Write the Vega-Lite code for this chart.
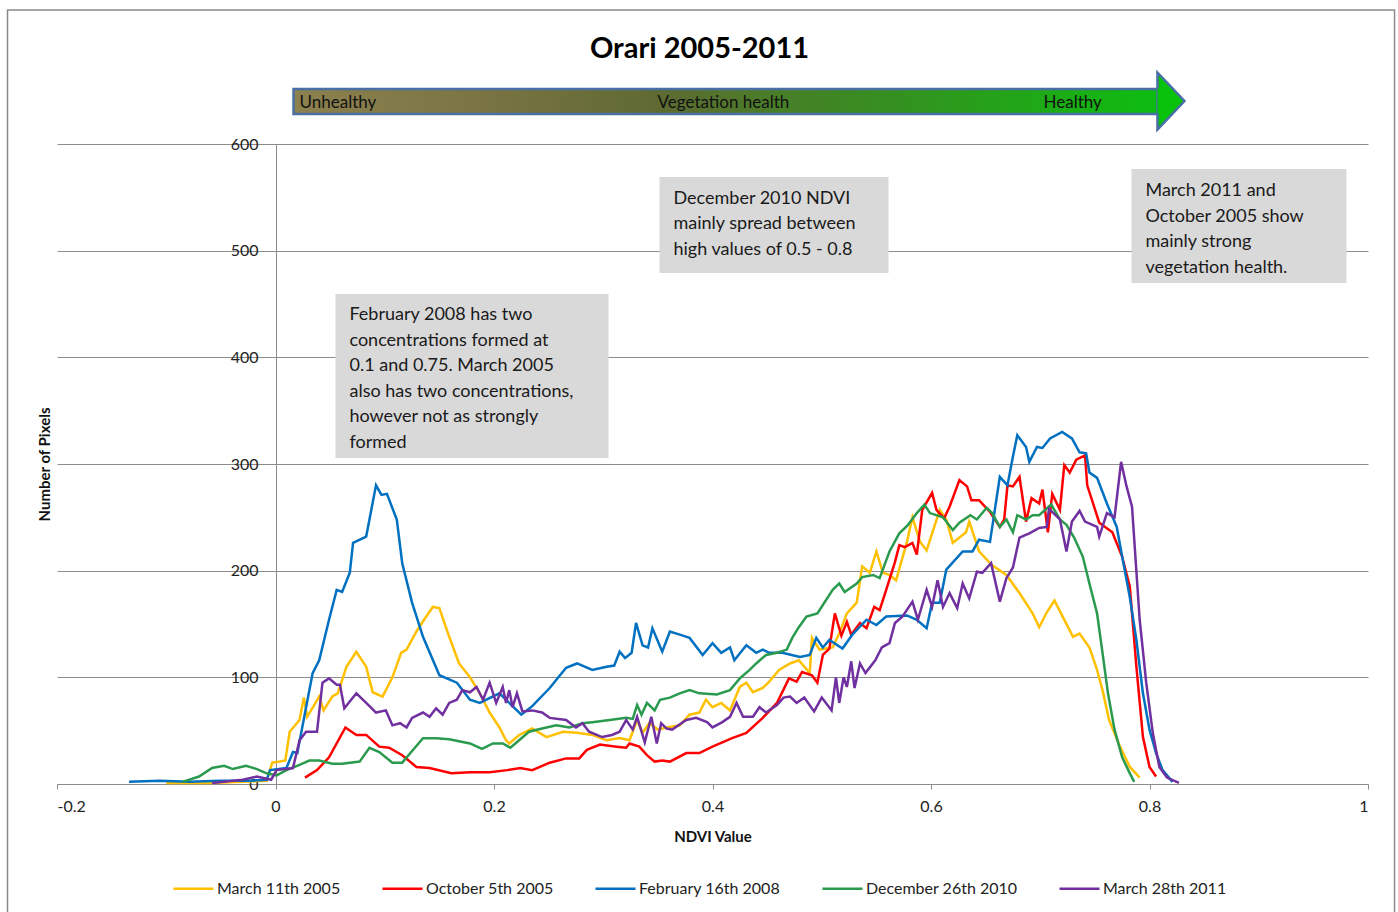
{
  "$schema": "https://vega.github.io/schema/vega-lite/v6.json",
  "width": 1311,
  "height": 640,
  "autosize": "none",
  "padding": {"left": 57, "top": 144, "right": 30, "bottom": 128},
  "background": "white",
  "config": {"view": {"stroke": null}, "font": "Lato"},
  "layer": [
    {
      "data": {"values": [{"x": -0.2453, "x2": 1.0243, "y": 725.6, "y2": -130}]},
      "mark": {"type": "rect", "filled": false, "color": "#8a8a8a", "strokeWidth": 1.5},
      "encoding": {
        "x": {"field": "x", "type": "quantitative"},
        "x2": {"field": "x2"},
        "y": {"field": "y", "type": "quantitative"},
        "y2": {"field": "y2"}
      }
    },
    {
      "data": {"values": [
        {"x": 0.0549, "x2": 0.3048, "y": 459.4, "y2": 305.6},
        {"x": 0.3515, "x2": 0.5611, "y": 569.1, "y2": 479.1},
        {"x": 0.7835, "x2": 0.9803, "y": 576.6, "y2": 469.7}
      ]},
      "mark": {"type": "rect", "color": "#d9d9d9"},
      "encoding": {
        "x": {"field": "x", "type": "quantitative"},
        "x2": {"field": "x2"},
        "y": {"field": "y", "type": "quantitative"},
        "y2": {"field": "y2"}
      }
    },
    {
      "data": {"values": [
        {"s":"March 11th 2005","x":-0.1,"y":1},{"s":"March 11th 2005","x":-0.06,"y":1},{"s":"March 11th 2005","x":-0.03,"y":2},{"s":"March 11th 2005","x":-0.008,"y":3},{"s":"March 11th 2005","x":-0.003,"y":20},{"s":"March 11th 2005","x":0.004,"y":21},{"s":"March 11th 2005","x":0.009,"y":22},{"s":"March 11th 2005","x":0.013,"y":49},{"s":"March 11th 2005","x":0.022,"y":60},{"s":"March 11th 2005","x":0.026,"y":81},{"s":"March 11th 2005","x":0.029,"y":63},{"s":"March 11th 2005","x":0.040,"y":82},{"s":"March 11th 2005","x":0.044,"y":69},{"s":"March 11th 2005","x":0.052,"y":82},{"s":"March 11th 2005","x":0.057,"y":85},{"s":"March 11th 2005","x":0.065,"y":110},{"s":"March 11th 2005","x":0.074,"y":124},{"s":"March 11th 2005","x":0.083,"y":110},{"s":"March 11th 2005","x":0.089,"y":86},{"s":"March 11th 2005","x":0.098,"y":82},{"s":"March 11th 2005","x":0.107,"y":100},{"s":"March 11th 2005","x":0.115,"y":123},{"s":"March 11th 2005","x":0.120,"y":126},{"s":"March 11th 2005","x":0.129,"y":143},{"s":"March 11th 2005","x":0.136,"y":154},{"s":"March 11th 2005","x":0.144,"y":166},{"s":"March 11th 2005","x":0.150,"y":165},{"s":"March 11th 2005","x":0.159,"y":138},{"s":"March 11th 2005","x":0.168,"y":113},{"s":"March 11th 2005","x":0.178,"y":100},{"s":"March 11th 2005","x":0.187,"y":85},{"s":"March 11th 2005","x":0.196,"y":67},{"s":"March 11th 2005","x":0.205,"y":53},{"s":"March 11th 2005","x":0.211,"y":41},{"s":"March 11th 2005","x":0.214,"y":38},{"s":"March 11th 2005","x":0.223,"y":46},{"s":"March 11th 2005","x":0.235,"y":52},{"s":"March 11th 2005","x":0.248,"y":44},{"s":"March 11th 2005","x":0.263,"y":49},{"s":"March 11th 2005","x":0.276,"y":48},{"s":"March 11th 2005","x":0.290,"y":46},{"s":"March 11th 2005","x":0.303,"y":41},{"s":"March 11th 2005","x":0.315,"y":43},{"s":"March 11th 2005","x":0.324,"y":41},{"s":"March 11th 2005","x":0.331,"y":60},{"s":"March 11th 2005","x":0.336,"y":48},{"s":"March 11th 2005","x":0.342,"y":57},{"s":"March 11th 2005","x":0.350,"y":51},{"s":"March 11th 2005","x":0.358,"y":53},{"s":"March 11th 2005","x":0.370,"y":55},{"s":"March 11th 2005","x":0.379,"y":65},{"s":"March 11th 2005","x":0.388,"y":67},{"s":"March 11th 2005","x":0.394,"y":79},{"s":"March 11th 2005","x":0.400,"y":72},{"s":"March 11th 2005","x":0.408,"y":76},{"s":"March 11th 2005","x":0.416,"y":69},{"s":"March 11th 2005","x":0.425,"y":91},{"s":"March 11th 2005","x":0.431,"y":95},{"s":"March 11th 2005","x":0.437,"y":86},{"s":"March 11th 2005","x":0.446,"y":90},{"s":"March 11th 2005","x":0.452,"y":96},{"s":"March 11th 2005","x":0.461,"y":107},{"s":"March 11th 2005","x":0.471,"y":113},{"s":"March 11th 2005","x":0.479,"y":116},{"s":"March 11th 2005","x":0.489,"y":104},{"s":"March 11th 2005","x":0.491,"y":137},{"s":"March 11th 2005","x":0.498,"y":126},{"s":"March 11th 2005","x":0.510,"y":128},{"s":"March 11th 2005","x":0.516,"y":141},{"s":"March 11th 2005","x":0.523,"y":160},{"s":"March 11th 2005","x":0.532,"y":170},{"s":"March 11th 2005","x":0.537,"y":204},{"s":"March 11th 2005","x":0.544,"y":198},{"s":"March 11th 2005","x":0.550,"y":218},{"s":"March 11th 2005","x":0.556,"y":198},{"s":"March 11th 2005","x":0.562,"y":196},{"s":"March 11th 2005","x":0.568,"y":191},{"s":"March 11th 2005","x":0.578,"y":227},{"s":"March 11th 2005","x":0.583,"y":250},{"s":"March 11th 2005","x":0.590,"y":227},{"s":"March 11th 2005","x":0.596,"y":219},{"s":"March 11th 2005","x":0.608,"y":257},{"s":"March 11th 2005","x":0.614,"y":248},{"s":"March 11th 2005","x":0.620,"y":226},{"s":"March 11th 2005","x":0.632,"y":236},{"s":"March 11th 2005","x":0.635,"y":246},{"s":"March 11th 2005","x":0.644,"y":218},{"s":"March 11th 2005","x":0.656,"y":205},{"s":"March 11th 2005","x":0.669,"y":196},{"s":"March 11th 2005","x":0.681,"y":179},{"s":"March 11th 2005","x":0.693,"y":160},{"s":"March 11th 2005","x":0.699,"y":147},{"s":"March 11th 2005","x":0.706,"y":161},{"s":"March 11th 2005","x":0.713,"y":172},{"s":"March 11th 2005","x":0.721,"y":156},{"s":"March 11th 2005","x":0.730,"y":138},{"s":"March 11th 2005","x":0.736,"y":141},{"s":"March 11th 2005","x":0.745,"y":128},{"s":"March 11th 2005","x":0.752,"y":107},{"s":"March 11th 2005","x":0.757,"y":88},{"s":"March 11th 2005","x":0.763,"y":60},{"s":"March 11th 2005","x":0.773,"y":35},{"s":"March 11th 2005","x":0.782,"y":16},{"s":"March 11th 2005","x":0.791,"y":6},

        {"s":"October 5th 2005","x":0.027,"y":6},{"s":"October 5th 2005","x":0.038,"y":13},{"s":"October 5th 2005","x":0.049,"y":25},{"s":"October 5th 2005","x":0.064,"y":53},{"s":"October 5th 2005","x":0.074,"y":46},{"s":"October 5th 2005","x":0.083,"y":46},{"s":"October 5th 2005","x":0.095,"y":35},{"s":"October 5th 2005","x":0.104,"y":34},{"s":"October 5th 2005","x":0.116,"y":27},{"s":"October 5th 2005","x":0.129,"y":16},{"s":"October 5th 2005","x":0.141,"y":15},{"s":"October 5th 2005","x":0.161,"y":10},{"s":"October 5th 2005","x":0.178,"y":11},{"s":"October 5th 2005","x":0.196,"y":11},{"s":"October 5th 2005","x":0.212,"y":13},{"s":"October 5th 2005","x":0.224,"y":15},{"s":"October 5th 2005","x":0.235,"y":13},{"s":"October 5th 2005","x":0.251,"y":20},{"s":"October 5th 2005","x":0.266,"y":24},{"s":"October 5th 2005","x":0.278,"y":24},{"s":"October 5th 2005","x":0.285,"y":32},{"s":"October 5th 2005","x":0.297,"y":37},{"s":"October 5th 2005","x":0.312,"y":35},{"s":"October 5th 2005","x":0.321,"y":34},{"s":"October 5th 2005","x":0.324,"y":38},{"s":"October 5th 2005","x":0.333,"y":35},{"s":"October 5th 2005","x":0.340,"y":27},{"s":"October 5th 2005","x":0.347,"y":21},{"s":"October 5th 2005","x":0.354,"y":22},{"s":"October 5th 2005","x":0.361,"y":21},{"s":"October 5th 2005","x":0.376,"y":29},{"s":"October 5th 2005","x":0.388,"y":29},{"s":"October 5th 2005","x":0.400,"y":35},{"s":"October 5th 2005","x":0.418,"y":43},{"s":"October 5th 2005","x":0.431,"y":48},{"s":"October 5th 2005","x":0.446,"y":62},{"s":"October 5th 2005","x":0.459,"y":76},{"s":"October 5th 2005","x":0.470,"y":99},{"s":"October 5th 2005","x":0.477,"y":96},{"s":"October 5th 2005","x":0.482,"y":105},{"s":"October 5th 2005","x":0.491,"y":102},{"s":"October 5th 2005","x":0.496,"y":95},{"s":"October 5th 2005","x":0.501,"y":121},{"s":"October 5th 2005","x":0.507,"y":127},{"s":"October 5th 2005","x":0.512,"y":160},{"s":"October 5th 2005","x":0.518,"y":139},{"s":"October 5th 2005","x":0.523,"y":152},{"s":"October 5th 2005","x":0.527,"y":140},{"s":"October 5th 2005","x":0.535,"y":151},{"s":"October 5th 2005","x":0.541,"y":146},{"s":"October 5th 2005","x":0.548,"y":166},{"s":"October 5th 2005","x":0.553,"y":163},{"s":"October 5th 2005","x":0.559,"y":182},{"s":"October 5th 2005","x":0.567,"y":208},{"s":"October 5th 2005","x":0.571,"y":224},{"s":"October 5th 2005","x":0.576,"y":222},{"s":"October 5th 2005","x":0.583,"y":226},{"s":"October 5th 2005","x":0.587,"y":215},{"s":"October 5th 2005","x":0.592,"y":257},{"s":"October 5th 2005","x":0.601,"y":273},{"s":"October 5th 2005","x":0.605,"y":257},{"s":"October 5th 2005","x":0.612,"y":249},{"s":"October 5th 2005","x":0.617,"y":260},{"s":"October 5th 2005","x":0.626,"y":285},{"s":"October 5th 2005","x":0.633,"y":279},{"s":"October 5th 2005","x":0.637,"y":266},{"s":"October 5th 2005","x":0.644,"y":266},{"s":"October 5th 2005","x":0.654,"y":255},{"s":"October 5th 2005","x":0.663,"y":241},{"s":"October 5th 2005","x":0.667,"y":248},{"s":"October 5th 2005","x":0.670,"y":280},{"s":"October 5th 2005","x":0.675,"y":279},{"s":"October 5th 2005","x":0.681,"y":288},{"s":"October 5th 2005","x":0.687,"y":246},{"s":"October 5th 2005","x":0.692,"y":268},{"s":"October 5th 2005","x":0.699,"y":263},{"s":"October 5th 2005","x":0.702,"y":276},{"s":"October 5th 2005","x":0.707,"y":236},{"s":"October 5th 2005","x":0.711,"y":272},{"s":"October 5th 2005","x":0.718,"y":257},{"s":"October 5th 2005","x":0.722,"y":299},{"s":"October 5th 2005","x":0.727,"y":292},{"s":"October 5th 2005","x":0.733,"y":304},{"s":"October 5th 2005","x":0.741,"y":308},{"s":"October 5th 2005","x":0.743,"y":280},{"s":"October 5th 2005","x":0.754,"y":245},{"s":"October 5th 2005","x":0.766,"y":236},{"s":"October 5th 2005","x":0.775,"y":213},{"s":"October 5th 2005","x":0.782,"y":185},{"s":"October 5th 2005","x":0.788,"y":110},{"s":"October 5th 2005","x":0.794,"y":44},{"s":"October 5th 2005","x":0.800,"y":16},{"s":"October 5th 2005","x":0.806,"y":7},

        {"s":"February 16th 2008","x":-0.134,"y":2},{"s":"February 16th 2008","x":-0.106,"y":3},{"s":"February 16th 2008","x":-0.079,"y":2},{"s":"February 16th 2008","x":-0.051,"y":3},{"s":"February 16th 2008","x":-0.024,"y":3},{"s":"February 16th 2008","x":-0.008,"y":4},{"s":"February 16th 2008","x":-0.005,"y":13},{"s":"February 16th 2008","x":0.010,"y":15},{"s":"February 16th 2008","x":0.016,"y":30},{"s":"February 16th 2008","x":0.020,"y":29},{"s":"February 16th 2008","x":0.034,"y":104},{"s":"February 16th 2008","x":0.040,"y":116},{"s":"February 16th 2008","x":0.049,"y":154},{"s":"February 16th 2008","x":0.056,"y":182},{"s":"February 16th 2008","x":0.061,"y":180},{"s":"February 16th 2008","x":0.068,"y":198},{"s":"February 16th 2008","x":0.071,"y":226},{"s":"February 16th 2008","x":0.083,"y":232},{"s":"February 16th 2008","x":0.092,"y":280},{"s":"February 16th 2008","x":0.097,"y":271},{"s":"February 16th 2008","x":0.102,"y":272},{"s":"February 16th 2008","x":0.111,"y":248},{"s":"February 16th 2008","x":0.116,"y":207},{"s":"February 16th 2008","x":0.125,"y":170},{"s":"February 16th 2008","x":0.135,"y":138},{"s":"February 16th 2008","x":0.150,"y":102},{"s":"February 16th 2008","x":0.166,"y":95},{"s":"February 16th 2008","x":0.178,"y":79},{"s":"February 16th 2008","x":0.187,"y":76},{"s":"February 16th 2008","x":0.193,"y":79},{"s":"February 16th 2008","x":0.205,"y":85},{"s":"February 16th 2008","x":0.225,"y":65},{"s":"February 16th 2008","x":0.235,"y":73},{"s":"February 16th 2008","x":0.251,"y":90},{"s":"February 16th 2008","x":0.266,"y":109},{"s":"February 16th 2008","x":0.276,"y":113},{"s":"February 16th 2008","x":0.290,"y":107},{"s":"February 16th 2008","x":0.303,"y":110},{"s":"February 16th 2008","x":0.310,"y":111},{"s":"February 16th 2008","x":0.315,"y":124},{"s":"February 16th 2008","x":0.320,"y":118},{"s":"February 16th 2008","x":0.326,"y":123},{"s":"February 16th 2008","x":0.330,"y":151},{"s":"February 16th 2008","x":0.336,"y":130},{"s":"February 16th 2008","x":0.341,"y":128},{"s":"February 16th 2008","x":0.345,"y":146},{"s":"February 16th 2008","x":0.354,"y":124},{"s":"February 16th 2008","x":0.361,"y":143},{"s":"February 16th 2008","x":0.370,"y":140},{"s":"February 16th 2008","x":0.379,"y":137},{"s":"February 16th 2008","x":0.391,"y":121},{"s":"February 16th 2008","x":0.400,"y":132},{"s":"February 16th 2008","x":0.408,"y":123},{"s":"February 16th 2008","x":0.416,"y":128},{"s":"February 16th 2008","x":0.420,"y":116},{"s":"February 16th 2008","x":0.431,"y":130},{"s":"February 16th 2008","x":0.440,"y":123},{"s":"February 16th 2008","x":0.446,"y":126},{"s":"February 16th 2008","x":0.452,"y":123},{"s":"February 16th 2008","x":0.464,"y":123},{"s":"February 16th 2008","x":0.480,"y":119},{"s":"February 16th 2008","x":0.489,"y":121},{"s":"February 16th 2008","x":0.495,"y":137},{"s":"February 16th 2008","x":0.501,"y":128},{"s":"February 16th 2008","x":0.507,"y":135},{"s":"February 16th 2008","x":0.519,"y":127},{"s":"February 16th 2008","x":0.528,"y":140},{"s":"February 16th 2008","x":0.541,"y":154},{"s":"February 16th 2008","x":0.550,"y":149},{"s":"February 16th 2008","x":0.559,"y":157},{"s":"February 16th 2008","x":0.578,"y":158},{"s":"February 16th 2008","x":0.587,"y":154},{"s":"February 16th 2008","x":0.596,"y":146},{"s":"February 16th 2008","x":0.601,"y":170},{"s":"February 16th 2008","x":0.608,"y":170},{"s":"February 16th 2008","x":0.614,"y":201},{"s":"February 16th 2008","x":0.629,"y":218},{"s":"February 16th 2008","x":0.638,"y":218},{"s":"February 16th 2008","x":0.644,"y":229},{"s":"February 16th 2008","x":0.654,"y":227},{"s":"February 16th 2008","x":0.663,"y":288},{"s":"February 16th 2008","x":0.670,"y":280},{"s":"February 16th 2008","x":0.675,"y":307},{"s":"February 16th 2008","x":0.679,"y":327},{"s":"February 16th 2008","x":0.687,"y":316},{"s":"February 16th 2008","x":0.690,"y":302},{"s":"February 16th 2008","x":0.697,"y":316},{"s":"February 16th 2008","x":0.702,"y":315},{"s":"February 16th 2008","x":0.709,"y":324},{"s":"February 16th 2008","x":0.720,"y":330},{"s":"February 16th 2008","x":0.729,"y":324},{"s":"February 16th 2008","x":0.736,"y":311},{"s":"February 16th 2008","x":0.742,"y":310},{"s":"February 16th 2008","x":0.745,"y":292},{"s":"February 16th 2008","x":0.752,"y":287},{"s":"February 16th 2008","x":0.761,"y":263},{"s":"February 16th 2008","x":0.770,"y":241},{"s":"February 16th 2008","x":0.775,"y":213},{"s":"February 16th 2008","x":0.782,"y":175},{"s":"February 16th 2008","x":0.788,"y":135},{"s":"February 16th 2008","x":0.794,"y":85},{"s":"February 16th 2008","x":0.800,"y":51},{"s":"February 16th 2008","x":0.806,"y":29},{"s":"February 16th 2008","x":0.812,"y":13},{"s":"February 16th 2008","x":0.821,"y":2},

        {"s":"December 26th 2010","x":-0.085,"y":2},{"s":"December 26th 2010","x":-0.070,"y":7},{"s":"December 26th 2010","x":-0.058,"y":15},{"s":"December 26th 2010","x":-0.047,"y":17},{"s":"December 26th 2010","x":-0.039,"y":14},{"s":"December 26th 2010","x":-0.027,"y":17},{"s":"December 26th 2010","x":-0.017,"y":14},{"s":"December 26th 2010","x":-0.008,"y":10},{"s":"December 26th 2010","x":0.001,"y":8},{"s":"December 26th 2010","x":0.010,"y":13},{"s":"December 26th 2010","x":0.022,"y":18},{"s":"December 26th 2010","x":0.031,"y":22},{"s":"December 26th 2010","x":0.040,"y":22},{"s":"December 26th 2010","x":0.052,"y":19},{"s":"December 26th 2010","x":0.061,"y":19},{"s":"December 26th 2010","x":0.077,"y":21},{"s":"December 26th 2010","x":0.086,"y":34},{"s":"December 26th 2010","x":0.095,"y":30},{"s":"December 26th 2010","x":0.107,"y":20},{"s":"December 26th 2010","x":0.116,"y":20},{"s":"December 26th 2010","x":0.125,"y":31},{"s":"December 26th 2010","x":0.135,"y":43},{"s":"December 26th 2010","x":0.147,"y":43},{"s":"December 26th 2010","x":0.159,"y":42},{"s":"December 26th 2010","x":0.178,"y":38},{"s":"December 26th 2010","x":0.189,"y":33},{"s":"December 26th 2010","x":0.199,"y":38},{"s":"December 26th 2010","x":0.208,"y":38},{"s":"December 26th 2010","x":0.215,"y":34},{"s":"December 26th 2010","x":0.223,"y":41},{"s":"December 26th 2010","x":0.232,"y":49},{"s":"December 26th 2010","x":0.244,"y":52},{"s":"December 26th 2010","x":0.257,"y":55},{"s":"December 26th 2010","x":0.269,"y":53},{"s":"December 26th 2010","x":0.281,"y":57},{"s":"December 26th 2010","x":0.290,"y":58},{"s":"December 26th 2010","x":0.306,"y":60},{"s":"December 26th 2010","x":0.321,"y":62},{"s":"December 26th 2010","x":0.327,"y":61},{"s":"December 26th 2010","x":0.331,"y":74},{"s":"December 26th 2010","x":0.335,"y":65},{"s":"December 26th 2010","x":0.340,"y":76},{"s":"December 26th 2010","x":0.347,"y":69},{"s":"December 26th 2010","x":0.352,"y":79},{"s":"December 26th 2010","x":0.361,"y":81},{"s":"December 26th 2010","x":0.370,"y":85},{"s":"December 26th 2010","x":0.379,"y":88},{"s":"December 26th 2010","x":0.388,"y":85},{"s":"December 26th 2010","x":0.404,"y":84},{"s":"December 26th 2010","x":0.416,"y":88},{"s":"December 26th 2010","x":0.425,"y":99},{"s":"December 26th 2010","x":0.434,"y":107},{"s":"December 26th 2010","x":0.440,"y":113},{"s":"December 26th 2010","x":0.449,"y":121},{"s":"December 26th 2010","x":0.459,"y":123},{"s":"December 26th 2010","x":0.468,"y":126},{"s":"December 26th 2010","x":0.473,"y":137},{"s":"December 26th 2010","x":0.479,"y":147},{"s":"December 26th 2010","x":0.486,"y":157},{"s":"December 26th 2010","x":0.496,"y":160},{"s":"December 26th 2010","x":0.510,"y":182},{"s":"December 26th 2010","x":0.516,"y":188},{"s":"December 26th 2010","x":0.521,"y":180},{"s":"December 26th 2010","x":0.532,"y":188},{"s":"December 26th 2010","x":0.537,"y":194},{"s":"December 26th 2010","x":0.547,"y":196},{"s":"December 26th 2010","x":0.553,"y":193},{"s":"December 26th 2010","x":0.562,"y":218},{"s":"December 26th 2010","x":0.571,"y":235},{"s":"December 26th 2010","x":0.579,"y":243},{"s":"December 26th 2010","x":0.587,"y":254},{"s":"December 26th 2010","x":0.594,"y":262},{"s":"December 26th 2010","x":0.599,"y":254},{"s":"December 26th 2010","x":0.611,"y":250},{"s":"December 26th 2010","x":0.620,"y":238},{"s":"December 26th 2010","x":0.626,"y":245},{"s":"December 26th 2010","x":0.636,"y":252},{"s":"December 26th 2010","x":0.642,"y":248},{"s":"December 26th 2010","x":0.651,"y":259},{"s":"December 26th 2010","x":0.656,"y":254},{"s":"December 26th 2010","x":0.663,"y":241},{"s":"December 26th 2010","x":0.669,"y":248},{"s":"December 26th 2010","x":0.675,"y":236},{"s":"December 26th 2010","x":0.679,"y":252},{"s":"December 26th 2010","x":0.687,"y":248},{"s":"December 26th 2010","x":0.693,"y":252},{"s":"December 26th 2010","x":0.699,"y":252},{"s":"December 26th 2010","x":0.710,"y":262},{"s":"December 26th 2010","x":0.718,"y":248},{"s":"December 26th 2010","x":0.724,"y":243},{"s":"December 26th 2010","x":0.731,"y":231},{"s":"December 26th 2010","x":0.739,"y":213},{"s":"December 26th 2010","x":0.745,"y":188},{"s":"December 26th 2010","x":0.752,"y":160},{"s":"December 26th 2010","x":0.757,"y":123},{"s":"December 26th 2010","x":0.762,"y":85},{"s":"December 26th 2010","x":0.768,"y":51},{"s":"December 26th 2010","x":0.775,"y":25},{"s":"December 26th 2010","x":0.782,"y":10},{"s":"December 26th 2010","x":0.786,"y":2},

        {"s":"March 28th 2011","x":-0.058,"y":1},{"s":"March 28th 2011","x":-0.030,"y":4},{"s":"March 28th 2011","x":-0.017,"y":7},{"s":"March 28th 2011","x":-0.004,"y":4},{"s":"March 28th 2011","x":0.001,"y":13},{"s":"March 28th 2011","x":0.016,"y":15},{"s":"March 28th 2011","x":0.022,"y":41},{"s":"March 28th 2011","x":0.028,"y":49},{"s":"March 28th 2011","x":0.038,"y":49},{"s":"March 28th 2011","x":0.043,"y":95},{"s":"March 28th 2011","x":0.049,"y":99},{"s":"March 28th 2011","x":0.056,"y":93},{"s":"March 28th 2011","x":0.059,"y":93},{"s":"March 28th 2011","x":0.063,"y":71},{"s":"March 28th 2011","x":0.074,"y":85},{"s":"March 28th 2011","x":0.083,"y":76},{"s":"March 28th 2011","x":0.092,"y":67},{"s":"March 28th 2011","x":0.101,"y":69},{"s":"March 28th 2011","x":0.107,"y":55},{"s":"March 28th 2011","x":0.114,"y":57},{"s":"March 28th 2011","x":0.120,"y":53},{"s":"March 28th 2011","x":0.125,"y":62},{"s":"March 28th 2011","x":0.135,"y":67},{"s":"March 28th 2011","x":0.141,"y":63},{"s":"March 28th 2011","x":0.147,"y":71},{"s":"March 28th 2011","x":0.153,"y":65},{"s":"March 28th 2011","x":0.159,"y":76},{"s":"March 28th 2011","x":0.166,"y":79},{"s":"March 28th 2011","x":0.171,"y":88},{"s":"March 28th 2011","x":0.178,"y":86},{"s":"March 28th 2011","x":0.184,"y":91},{"s":"March 28th 2011","x":0.190,"y":79},{"s":"March 28th 2011","x":0.196,"y":95},{"s":"March 28th 2011","x":0.202,"y":76},{"s":"March 28th 2011","x":0.208,"y":91},{"s":"March 28th 2011","x":0.211,"y":76},{"s":"March 28th 2011","x":0.214,"y":88},{"s":"March 28th 2011","x":0.217,"y":72},{"s":"March 28th 2011","x":0.221,"y":85},{"s":"March 28th 2011","x":0.226,"y":68},{"s":"March 28th 2011","x":0.235,"y":69},{"s":"March 28th 2011","x":0.244,"y":67},{"s":"March 28th 2011","x":0.251,"y":62},{"s":"March 28th 2011","x":0.266,"y":60},{"s":"March 28th 2011","x":0.275,"y":53},{"s":"March 28th 2011","x":0.281,"y":57},{"s":"March 28th 2011","x":0.287,"y":49},{"s":"March 28th 2011","x":0.299,"y":44},{"s":"March 28th 2011","x":0.308,"y":46},{"s":"March 28th 2011","x":0.315,"y":49},{"s":"March 28th 2011","x":0.321,"y":60},{"s":"March 28th 2011","x":0.327,"y":51},{"s":"March 28th 2011","x":0.331,"y":63},{"s":"March 28th 2011","x":0.338,"y":39},{"s":"March 28th 2011","x":0.344,"y":63},{"s":"March 28th 2011","x":0.349,"y":38},{"s":"March 28th 2011","x":0.353,"y":57},{"s":"March 28th 2011","x":0.358,"y":52},{"s":"March 28th 2011","x":0.363,"y":51},{"s":"March 28th 2011","x":0.376,"y":60},{"s":"March 28th 2011","x":0.385,"y":62},{"s":"March 28th 2011","x":0.395,"y":58},{"s":"March 28th 2011","x":0.400,"y":53},{"s":"March 28th 2011","x":0.409,"y":58},{"s":"March 28th 2011","x":0.416,"y":63},{"s":"March 28th 2011","x":0.422,"y":76},{"s":"March 28th 2011","x":0.428,"y":63},{"s":"March 28th 2011","x":0.437,"y":63},{"s":"March 28th 2011","x":0.443,"y":72},{"s":"March 28th 2011","x":0.449,"y":67},{"s":"March 28th 2011","x":0.459,"y":74},{"s":"March 28th 2011","x":0.465,"y":81},{"s":"March 28th 2011","x":0.471,"y":82},{"s":"March 28th 2011","x":0.477,"y":76},{"s":"March 28th 2011","x":0.484,"y":81},{"s":"March 28th 2011","x":0.493,"y":68},{"s":"March 28th 2011","x":0.500,"y":81},{"s":"March 28th 2011","x":0.509,"y":69},{"s":"March 28th 2011","x":0.513,"y":100},{"s":"March 28th 2011","x":0.516,"y":76},{"s":"March 28th 2011","x":0.520,"y":100},{"s":"March 28th 2011","x":0.523,"y":91},{"s":"March 28th 2011","x":0.527,"y":115},{"s":"March 28th 2011","x":0.530,"y":90},{"s":"March 28th 2011","x":0.535,"y":113},{"s":"March 28th 2011","x":0.540,"y":104},{"s":"March 28th 2011","x":0.549,"y":116},{"s":"March 28th 2011","x":0.555,"y":128},{"s":"March 28th 2011","x":0.562,"y":132},{"s":"March 28th 2011","x":0.567,"y":151},{"s":"March 28th 2011","x":0.574,"y":157},{"s":"March 28th 2011","x":0.583,"y":171},{"s":"March 28th 2011","x":0.588,"y":154},{"s":"March 28th 2011","x":0.596,"y":182},{"s":"March 28th 2011","x":0.601,"y":166},{"s":"March 28th 2011","x":0.606,"y":191},{"s":"March 28th 2011","x":0.611,"y":166},{"s":"March 28th 2011","x":0.617,"y":179},{"s":"March 28th 2011","x":0.624,"y":165},{"s":"March 28th 2011","x":0.629,"y":188},{"s":"March 28th 2011","x":0.635,"y":174},{"s":"March 28th 2011","x":0.642,"y":199},{"s":"March 28th 2011","x":0.647,"y":198},{"s":"March 28th 2011","x":0.655,"y":207},{"s":"March 28th 2011","x":0.663,"y":171},{"s":"March 28th 2011","x":0.669,"y":193},{"s":"March 28th 2011","x":0.675,"y":203},{"s":"March 28th 2011","x":0.681,"y":231},{"s":"March 28th 2011","x":0.690,"y":235},{"s":"March 28th 2011","x":0.699,"y":240},{"s":"March 28th 2011","x":0.706,"y":241},{"s":"March 28th 2011","x":0.708,"y":258},{"s":"March 28th 2011","x":0.718,"y":248},{"s":"March 28th 2011","x":0.724,"y":218},{"s":"March 28th 2011","x":0.729,"y":246},{"s":"March 28th 2011","x":0.736,"y":256},{"s":"March 28th 2011","x":0.741,"y":246},{"s":"March 28th 2011","x":0.752,"y":241},{"s":"March 28th 2011","x":0.754,"y":232},{"s":"March 28th 2011","x":0.761,"y":254},{"s":"March 28th 2011","x":0.768,"y":250},{"s":"March 28th 2011","x":0.774,"y":302},{"s":"March 28th 2011","x":0.779,"y":279},{"s":"March 28th 2011","x":0.784,"y":260},{"s":"March 28th 2011","x":0.791,"y":154},{"s":"March 28th 2011","x":0.797,"y":95},{"s":"March 28th 2011","x":0.803,"y":48},{"s":"March 28th 2011","x":0.809,"y":16},{"s":"March 28th 2011","x":0.816,"y":6},{"s":"March 28th 2011","x":0.827,"y":1}
      ]},
      "mark": {"type": "line", "strokeWidth": 2.5},
      "encoding": {
        "x": {
          "field": "x", "type": "quantitative",
          "scale": {"domain": [-0.2, 1], "nice": false, "zero": false},
          "axis": {
            "title": "NDVI Value", "values": [-0.2, 0, 0.2, 0.4, 0.6, 0.8, 1],
            "labelExpr": "datum.value < 0 ? '-' + format(-datum.value, '~g') : format(datum.value, '~g')",
            "grid": false, "domainColor": "#8c8c8c", "tickColor": "#8c8c8c", "tickSize": 5,
            "labelFont": "Lato", "labelFontSize": 16, "labelColor": "#222222", "labelPadding": 9,
            "titleFont": "Lato", "titleFontSize": 15, "titleFontWeight": "bold", "titleColor": "#111111",
            "titlePadding": 15
          }
        },
        "y": {
          "field": "y", "type": "quantitative",
          "scale": {"domain": [0, 600], "nice": false},
          "axis": {
            "title": "Number of Pixels", "values": [0, 100, 200, 300, 400, 500, 600],
            "offset": -219, "grid": true, "gridColor": "#8c8c8c", "domainColor": "#8c8c8c",
            "ticks": false, "tickSize": 0, "labelPadding": 18,
            "labelFont": "Lato", "labelFontSize": 16, "labelColor": "#222222",
            "titleFont": "Lato", "titleFontSize": 15, "titleFontWeight": "bold", "titleColor": "#111111",
            "titleX": -232, "titleY": 320, "titleAngle": -90, "titleBaseline": "middle", "titleAlign": "center"
          }
        },
        "color": {
          "field": "s", "type": "nominal",
          "scale": {
            "domain": ["March 11th 2005", "October 5th 2005", "February 16th 2008", "December 26th 2010", "March 28th 2011"],
            "range": ["#ffc000", "#ff0000", "#0070c0", "#2a9a4e", "#7030a0"]
          },
          "legend": {
            "title": null, "orient": "none", "legendX": 115, "legendY": 723, "direction": "horizontal",
            "symbolType": "stroke", "symbolSize": 1600, "symbolStrokeWidth": 2.5,
            "labelFont": "Lato", "labelFontSize": 16, "labelColor": "#222222", "labelOffset": 2,
            "labelLimit": 400, "columnPadding": 36
          }
        }
      }
    },
    {
      "data": {"values": [
        {"t": "February 2008 has two", "x": 0.0677, "y": 439.7},
        {"t": "concentrations formed at", "x": 0.0677, "y": 415.3},
        {"t": "0.1 and 0.75. March 2005", "x": 0.0677, "y": 391.8},
        {"t": "also has two concentrations,", "x": 0.0677, "y": 367.4},
        {"t": "however not as strongly", "x": 0.0677, "y": 344.0},
        {"t": "formed", "x": 0.0677, "y": 319.6},
        {"t": "December 2010 NDVI", "x": 0.3643, "y": 548.4},
        {"t": "mainly spread between", "x": 0.3643, "y": 525.0},
        {"t": "high values of 0.5 - 0.8", "x": 0.3643, "y": 500.6},
        {"t": "March 2011 and", "x": 0.7963, "y": 555.9},
        {"t": "October 2005 show", "x": 0.7963, "y": 531.5},
        {"t": "mainly strong", "x": 0.7963, "y": 508.1},
        {"t": "vegetation health.", "x": 0.7963, "y": 483.7}
      ]},
      "mark": {"type": "text", "align": "left", "baseline": "middle", "font": "Lato", "fontSize": 18, "color": "#1a1a1a"},
      "encoding": {
        "x": {"field": "x", "type": "quantitative"},
        "y": {"field": "y", "type": "quantitative"},
        "text": {"field": "t"}
      }
    },
    {
      "data": {"values": [{"x": 0.0165, "x2": 0.8073, "y": 651.6, "y2": 628.1}]},
      "mark": {
        "type": "rect", "stroke": "#4a6fa5", "strokeWidth": 2.5,
        "fill": {"gradient": "linear", "x1": 0, "x2": 1, "y1": 0, "y2": 0, "stops": [
          {"offset": 0, "color": "#8c814f"},
          {"offset": 0.22, "color": "#7a7443"},
          {"offset": 0.42, "color": "#5f6a32"},
          {"offset": 0.65, "color": "#3a8a22"},
          {"offset": 1, "color": "#0dbd10"}
        ]}
      },
      "encoding": {
        "x": {"field": "x", "type": "quantitative"},
        "x2": {"field": "x2"},
        "y": {"field": "y", "type": "quantitative"},
        "y2": {"field": "y2"}
      }
    },
    {
      "data": {"values": [{"x": 0.8073, "y": 640.3}]},
      "mark": {
        "type": "point", "filled": true, "opacity": 1, "size": 3249,
        "shape": "M0,-0.44L0,-1L0.947,0L0,1L0,0.44",
        "fill": "#08c20c", "stroke": "#4a6fa5", "strokeWidth": 2.5, "strokeOpacity": 1, "fillOpacity": 1
      },
      "encoding": {
        "x": {"field": "x", "type": "quantitative"},
        "y": {"field": "y", "type": "quantitative"}
      }
    },
    {
      "data": {"values": [
        {"t": "Unhealthy", "x": 0.022, "y": 638.4},
        {"t": "Vegetation health", "x": 0.3497, "y": 638.4},
        {"t": "Healthy", "x": 0.703, "y": 638.4}
      ]},
      "mark": {"type": "text", "align": "left", "baseline": "middle", "font": "Lato", "fontSize": 17, "color": "#111111"},
      "encoding": {
        "x": {"field": "x", "type": "quantitative"},
        "y": {"field": "y", "type": "quantitative"},
        "text": {"field": "t"}
      }
    },
    {
      "data": {"values": [{"t": "Orari 2005-2011", "x": 0.3881, "y": 689.5}]},
      "mark": {"type": "text", "align": "center", "baseline": "middle", "font": "Lato", "fontSize": 29, "fontWeight": "bold", "color": "#000000"},
      "encoding": {
        "x": {"field": "x", "type": "quantitative"},
        "y": {"field": "y", "type": "quantitative"},
        "text": {"field": "t"}
      }
    }
  ]
}
